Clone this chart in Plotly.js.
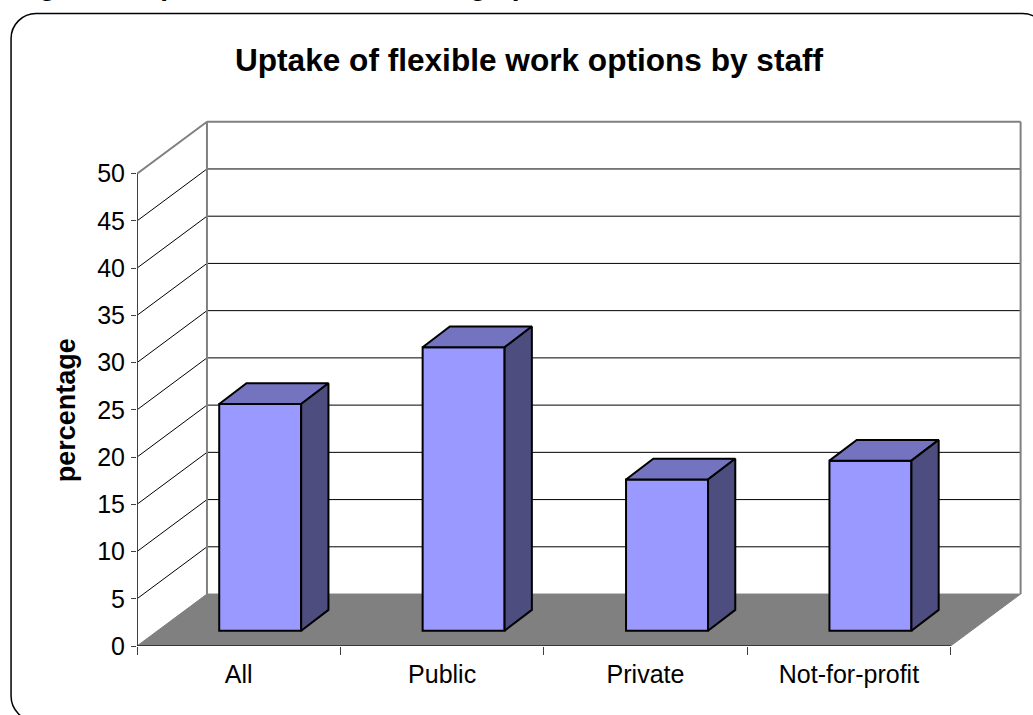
<!DOCTYPE html>
<html>
<head>
<meta charset="utf-8">
<script src="https://cdn.plot.ly/plotly-3.0.1.min.js"></script>
<style>html,body{margin:0;padding:0;background:#fff;overflow:hidden}</style>
</head>
<body>
<div id="chart" style="width:1033px;height:715px"></div>
<script>
const categories = ["All", "Public", "Private", "Not-for-profit"];
const uptake = [24, 30, 16, 18];
const yTicks = [0, 5, 10, 15, 20, 25, 30, 35, 40, 45, 50];
const chartTitle = "Uptake of flexible work options by staff";
const figureCaption = "Figure 3: Uptake of flexible working options";
const yTitle = "percentage";

// Pseudo-3D box geometry, in axis units
const wallDx = 0.344, wallDy = 5.5;
const barOffDx = 0.1057, barOffDy = 1.62;
const barDepthDx = 0.134, barDepthDy = 2.2;
const barWidth = 0.403;
const nCat = categories.length;
const yMax = 50;

const W = 1033, H = 715;
const m = {l: 137, r: 0.6, t: 117.4, b: 69};
const px = x => (x - m.l) / (W - m.l - m.r);
const py = y => 1 - (y - m.t) / (H - m.t - m.b);

const centers = categories.map((c, i) => i + 0.5 + barOffDx);
const traces = [];

traces.push({
  type: "bar", x: centers, y: uptake, base: barOffDy, width: barWidth,
  marker: {color: "#9999FF", line: {color: "#000", width: 2}},
  hoverinfo: "skip", showlegend: false
});

uptake.forEach((v, i) => {
  const l = centers[i] - barWidth / 2, r = centers[i] + barWidth / 2;
  const t = v + barOffDy;
  traces.push({
    type: "scatter", mode: "lines", fill: "toself", fillcolor: "#7373BF",
    x: [l, l + barDepthDx, r + barDepthDx, r, l],
    y: [t, t + barDepthDy, t + barDepthDy, t, t],
    line: {color: "#000", width: 2}, hoverinfo: "skip", showlegend: false
  });
  traces.push({
    type: "scatter", mode: "lines", fill: "toself", fillcolor: "#4D4D7F",
    x: [r, r + barDepthDx, r + barDepthDx, r, r],
    y: [barOffDy, barOffDy + barDepthDy, t + barDepthDy, t, barOffDy],
    line: {color: "#000", width: 2}, hoverinfo: "skip", showlegend: false
  });
});

// axis lines
traces.push({type: "scatter", mode: "lines", x: [0, 0], y: [0, yMax], cliponaxis: false,
  line: {color: "#404040", width: 2}, hoverinfo: "skip", showlegend: false});
traces.push({type: "scatter", mode: "lines", x: [0, nCat], y: [0, 0], cliponaxis: false,
  line: {color: "#202020", width: 1.5}, hoverinfo: "skip", showlegend: false});

const shapes = [];
// floor
shapes.push({type: "path", layer: "below", xref: "x", yref: "y",
  path: `M 0 0 L ${wallDx} ${wallDy} L ${wallDx + nCat} ${wallDy} L ${nCat} 0 Z`,
  fillcolor: "#808080", line: {color: "#808080", width: 1}});
// grid
yTicks.filter(v => v > 0).forEach(v => {
  const top = v === yMax;
  const line = top ? {color: "#808080", width: 2} : {color: "#000", width: 1};
  shapes.push({type: "line", layer: "below", xref: "x", yref: "y", x0: 0, y0: v, x1: wallDx, y1: v + wallDy, line});
  shapes.push({type: "line", layer: "below", xref: "x", yref: "y", x0: wallDx, y0: v + wallDy, x1: wallDx + nCat, y1: v + wallDy, line});
});
// wall edges
[wallDx, wallDx + nCat].forEach(x => shapes.push({type: "line", layer: "below", xref: "x", yref: "y",
  x0: x, y0: wallDy, x1: x, y1: yMax + wallDy, line: {color: "#808080", width: 2}}));
// rounded frame
const fx0 = 11, fx1 = 1048, fy0 = 14, fy1 = 721, rad = 25, k = 0.45 * rad;
shapes.push({type: "path", layer: "above", xref: "paper", yref: "paper",
  path: `M ${px(fx0 + rad)} ${py(fy0)} L ${px(fx1 - rad)} ${py(fy0)} ` +
    `C ${px(fx1 - k)} ${py(fy0)} ${px(fx1)} ${py(fy0 + k)} ${px(fx1)} ${py(fy0 + rad)} ` +
    `L ${px(fx1)} ${py(fy1 - rad)} C ${px(fx1)} ${py(fy1 - k)} ${px(fx1 - k)} ${py(fy1)} ${px(fx1 - rad)} ${py(fy1)} ` +
    `L ${px(fx0 + rad)} ${py(fy1)} C ${px(fx0 + k)} ${py(fy1)} ${px(fx0)} ${py(fy1 - k)} ${px(fx0)} ${py(fy1 - rad)} ` +
    `L ${px(fx0)} ${py(fy0 + rad)} C ${px(fx0)} ${py(fy0 + k)} ${px(fx0 + k)} ${py(fy0)} ${px(fx0 + rad)} ${py(fy0)} Z`,
  fillcolor: "rgba(0,0,0,0)", line: {color: "#000", width: 1.5}});

const font = "'Liberation Sans', Arial, sans-serif";
const layout = {
  width: W, height: H, margin: m, showlegend: false, bargap: 0,
  paper_bgcolor: "#fff", plot_bgcolor: "#fff",
  font: {family: font, color: "#000"},
  title: {text: "<b>" + chartTitle + "</b>", font: {size: 31.6, family: font, color: "#000"},
    x: 529 / W, xanchor: "center", xref: "container", y: 1 - 60 / H, yref: "container", yanchor: "middle"},
  xaxis: {range: [0, 4.4], tickmode: "array", tickvals: categories.map((c, i) => i + 0.5), ticktext: categories,
    ticks: "", showgrid: false, zeroline: false, showline: false,
    tickfont: {size: 25, family: font, color: "#000"}, ticklabelstandoff: 11,
    minor: {tickmode: "array", tickvals: categories.map((c, i) => i).concat([nCat]), ticks: "outside", ticklen: 8, tickwidth: 1, tickcolor: "#404040", showgrid: false}},
  yaxis: {range: [0, 56], tickmode: "array", tickvals: yTicks, ticks: "outside", ticklen: 5, tickwidth: 1, tickcolor: "#404040",
    showgrid: false, zeroline: false, showline: false, ticklabelstandoff: 1,
    tickfont: {size: 25, family: font, color: "#000"}},
  shapes,
  annotations: [
    {text: "<b>" + yTitle + "</b>", xref: "paper", yref: "paper", x: px(65.5), y: py(411), textangle: -90,
      xanchor: "center", yanchor: "middle", showarrow: false, font: {size: 27, family: font, color: "#000"}},
    {text: "<b>" + figureCaption + "</b>", xref: "paper", yref: "paper", x: px(12), y: py(3.2), xanchor: "left", yanchor: "bottom",
      showarrow: false, font: {size: 28, family: font, color: "#000"}}
  ]
};
Plotly.newPlot("chart", traces, layout, {displayModeBar: false, staticPlot: true});
</script>
</body>
</html>
